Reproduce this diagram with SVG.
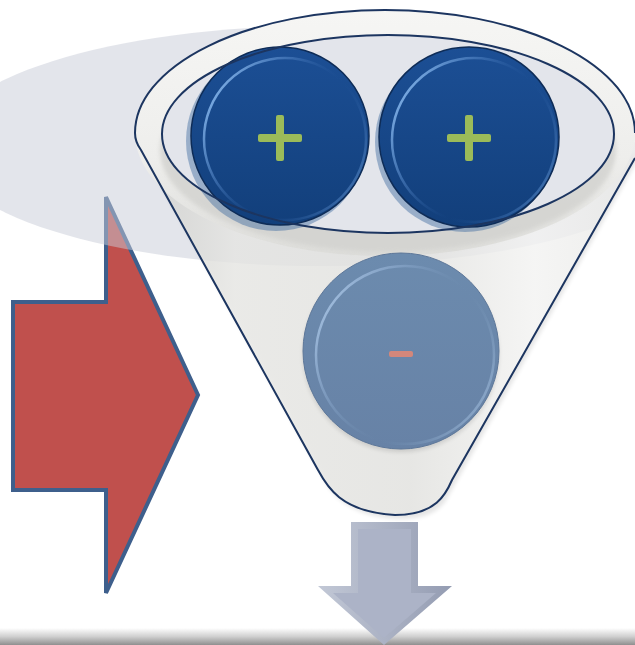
<svg xmlns="http://www.w3.org/2000/svg" width="635" height="645" viewBox="0 0 635 645">
  <defs>
    <linearGradient id="floorGrad" x1="0" y1="0" x2="0" y2="1">
      <stop offset="0" stop-color="#ffffff"/>
      <stop offset="0.5" stop-color="#d0d0d0"/>
      <stop offset="1" stop-color="#8f8f8f"/>
    </linearGradient>
    <linearGradient id="bodyGrad" x1="0" y1="0" x2="1" y2="0">
      <stop offset="0" stop-color="#d3d3cf"/>
      <stop offset="0.2" stop-color="#ebebe8"/>
      <stop offset="0.55" stop-color="#e7e7e4"/>
      <stop offset="0.8" stop-color="#f9f9f8"/>
      <stop offset="1" stop-color="#efefed"/>
    </linearGradient>
    <linearGradient id="rimGrad" x1="0" y1="0" x2="0" y2="1">
      <stop offset="0" stop-color="#f6f6f4"/>
      <stop offset="0.6" stop-color="#eeeeec"/>
      <stop offset="1" stop-color="#dcdcd9"/>
    </linearGradient>
    <linearGradient id="navyGrad" x1="0" y1="0" x2="0" y2="1">
      <stop offset="0" stop-color="#1c4f95"/>
      <stop offset="1" stop-color="#123f7b"/>
    </linearGradient>
    <linearGradient id="navyHi" x1="0" y1="0.2" x2="1" y2="0.8">
      <stop offset="0" stop-color="#8cbcf0"/>
      <stop offset="0.3" stop-color="#5a8ccc" stop-opacity="0.5"/>
      <stop offset="0.6" stop-color="#1c4f95" stop-opacity="0"/>
      <stop offset="1" stop-color="#5f90cc" stop-opacity="0.7"/>
    </linearGradient>
    <linearGradient id="slateGrad" x1="0" y1="0" x2="0" y2="1">
      <stop offset="0" stop-color="#6c8bae"/>
      <stop offset="1" stop-color="#6782a6"/>
    </linearGradient>
    <linearGradient id="slateHi" x1="0" y1="0.2" x2="1" y2="0.8">
      <stop offset="0" stop-color="#a8c4e4"/>
      <stop offset="0.3" stop-color="#8aa8cc" stop-opacity="0.5"/>
      <stop offset="0.6" stop-color="#6c8bae" stop-opacity="0"/>
      <stop offset="1" stop-color="#a0bcdc" stop-opacity="0.8"/>
    </linearGradient>
    <linearGradient id="downGrad" x1="0" y1="0" x2="1" y2="0">
      <stop offset="0" stop-color="#c2c8d6"/>
      <stop offset="1" stop-color="#949cb2"/>
    </linearGradient>
    <clipPath id="backClip">
      <polygon points="-10,-10 380,-10 380,200 645,140 452,480 -10,480"/>
    </clipPath>
    <filter id="soft" x="-10%" y="-10%" width="120%" height="120%">
      <feGaussianBlur stdDeviation="2"/>
    </filter>
  </defs>
  <style>
    .outline { fill: none; stroke: #1c3560; stroke-width: 2; }
    .plus { fill: #9bbb59; }
    .minus { fill: #d3877b; }
    .disc-shadow { fill: #3f6aa0; opacity: 0.45; }
    .disc { fill: url(#navyGrad); stroke: #0e2c57; stroke-width: 1.5; }
    .disc-hi { fill: none; stroke: url(#navyHi); stroke-width: 2.5; }
  </style>

  <g id="floor">
    <rect x="0" y="628" width="635" height="17" fill="url(#floorGrad)"/>
  </g>

  <g id="connectors">
    <g id="input-arrow">
      <polygon points="13,302 106,302 106,197 198,395 106,593 106,490 13,490" fill="#c0504d" stroke="#3e5f8c" stroke-width="4" stroke-linejoin="miter"/>
    </g>
  </g>

  <g id="backdrop" clip-path="url(#backClip)">
    <ellipse cx="319" cy="146" rx="377" ry="120" fill="#c8ccd8" opacity="0.5"/>
  </g>

  <g id="funnel">
    <path d="M 141 150 L 318 470 C 326 485 340 512 395 515 C 425 516 436 505 442 498 L 638 150 Z" fill="#000" opacity="0.1" filter="url(#soft)" transform="translate(3,4)"/>
    <path d="M 135 133 A 250 123 0 0 1 635 133 L 635 158 L 452 480 C 446 494 436 515 395 515 C 340 512 326 485 318 470 L 141 150 Z" fill="url(#bodyGrad)" opacity="0.8"/>
    <ellipse cx="385" cy="133" rx="250" ry="123" fill="url(#rimGrad)"/>
    <ellipse cx="388" cy="150" rx="228" ry="102" fill="#d2d2cf" opacity="0.8" filter="url(#soft)"/>
    <ellipse cx="388" cy="134" rx="226" ry="99" fill="#e3e5eb"/>
    <path d="M 135 133 A 250 123 0 0 1 635 133" class="outline"/>
    <path d="M 135 133 Q 135 142 141 150 L 318 470 C 326 485 340 512 395 515 C 436 515 446 494 452 480 L 635 158" class="outline" stroke-width="2.5"/>
  </g>

  <g id="plus-left">
    <circle cx="276" cy="141" r="90" class="disc-shadow"/>
    <circle cx="280" cy="136" r="89" class="disc"/>
    <circle cx="285" cy="139" r="81" class="disc-hi"/>
    <rect x="258" y="134" width="44" height="8" rx="2" class="plus"/>
    <rect x="276" y="115" width="8" height="46" rx="2" class="plus"/>
  </g>

  <g id="plus-right">
    <circle cx="465" cy="142" r="90" class="disc-shadow"/>
    <circle cx="469" cy="137" r="90" class="disc"/>
    <circle cx="474" cy="140" r="82" class="disc-hi"/>
    <rect x="447" y="134" width="44" height="8" rx="2" class="plus"/>
    <rect x="465" y="115" width="8" height="46" rx="2" class="plus"/>
  </g>

  <g id="rim-line">
    <ellipse cx="388" cy="134" rx="226" ry="99" class="outline"/>
  </g>

  <g id="minus">
    <circle cx="401" cy="354" r="98" fill="#000" opacity="0.12" filter="url(#soft)"/>
    <circle cx="401" cy="351" r="98" fill="url(#slateGrad)" stroke="#5d7799" stroke-width="1"/>
    <circle cx="405" cy="355" r="89" fill="none" stroke="url(#slateHi)" stroke-width="2.5"/>
    <rect x="389" y="351" width="24" height="6" rx="2" class="minus"/>
  </g>

  <g id="output-arrow">
    <polygon points="351,522 418,522 418,586 452,586 384,645 318,586 351,586" fill="url(#downGrad)"/>
    <polygon points="358,529 411,529 411,593 436,593 384,638 333,593 358,593" fill="#acb3c7"/>
  </g>
</svg>
